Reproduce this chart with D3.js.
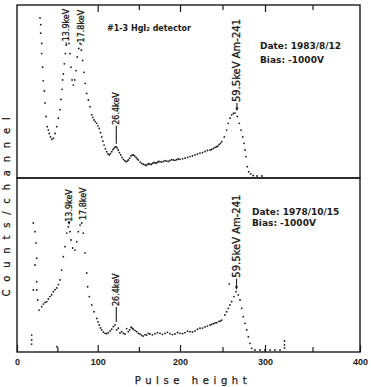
<!DOCTYPE html>
<html><head><meta charset="utf-8">
<script src="https://cdn.jsdelivr.net/npm/d3@7"></script>
<style>body{margin:0;background:#fff}svg{display:block}</style>
</head><body><svg id="c" width="371" height="387"></svg>
<script>
// ---------- data ----------
const xTickValues = [0, 100, 200, 300, 400];
const xMinorTicks = [50, 150, 250, 350];
const xTopMajor = [100, 200, 300];
const xTopMinor = [150, 250, 350];

// upper spectrum (1983/8/12)
const topCh = [28.5,29.4,29.4,30.6,30.6,31.8,32.5,33.8,34.7,35.9,37.5,38.8,40,41.5,43,45,47.1,49.2,51.2,53.3,54.5,55.8,56.6,57.4,58.6,59.9,61.1,62.8,64.4,65.7,66.9,68.2,69.8,71.5,73.1,74.7,76.5,78.1,79.7,81.4,83,84.6,86.4,88.4,90.5,92.6,95.4,98.8,101.9,104.9,107.7,110.9,114.1,117,119.8,122.2,125,127.9,131.1,134.4,137.2,140.5,143.3,146.5,149.3,153.5,157.5,160.5,163.5,166.5,169.6,172.7,175.7,179.8,183.8,187.8,191.9,196,200,206,211.8,217.6,223.5,229.4,235.3,239.3,243.2,246,249.1,252.1,254.9,256.8,258.8,260.8,262.8,264.7,267.4,269.8,271.8,273.8,275.3,276.5,277.6,279.2,280.8,283.2,286.2,290.6,296.5,
  151.5,155.5,159,162,165,168,171,174,177.7,181.8,185.8,189.8,194,198,203,209,214.7,220.5,226.5,232.3,237.3,241.3,244.6,247.5,103.4,106.3,109.3,112.5,115.5,118.4,121,123.6,126.4,129.5,132.8,135.8,138.8,142,144.9,147.9,94,97,100.3];
const topCounts = [93,89,84,78,72,64,56,50,43,35,29,27,25,23,21.6,22.2,25,29,34,39,45,51,56.5,60,66,72,77,81,78,72,64,56.5,53.5,56.5,62,70,75,78,74,68,61,54.5,48.6,44.7,40.8,36,33,31,28,23,18.2,14.3,12.4,14.3,16.3,17.2,15.3,12.4,9.8,8.4,9.4,11.8,12.4,11,9.4,7.4,6.5,6.8,7,7.4,7.8,8.1,8.4,8.6,8.8,9.1,9.4,9.6,9.8,10.5,11.4,12.4,13.4,14.4,15.3,16.2,17.2,18.5,20.2,23,27,31,34,36,36.8,37,35,31,27,23,19.2,15.3,11.4,5.5,2.5,1.2,0.3,0,0,
  8.2,6.9,6.2,7.2,6.8,7.9,7.5,8.6,8.2,9.0,8.6,9.6,9.2,10.0,10.1,11.0,11.8,13.0,13.8,15.0,15.6,16.8,17.6,19.2,25.5,20.5,16,13,13.2,15.5,17,16.5,13.8,11,9,8.8,10.5,12.3,11.8,10.2,34.5,32,29.5];

// lower spectrum (1978/10/15)
const botCh = [18.2,18.2,18.2,20.2,20.2,22.3,22.3,23.5,24.4,24.4,24.4,25.7,27.3,30.6,32.6,34.7,36.8,38.8,40.9,43,45,47.1,49.2,49.2,51.2,53.3,55.4,57.4,59.5,61.6,63.6,65.7,66.9,69,71.9,74,76,78.1,80.2,82.2,84.3,86.4,87.6,89.6,92.6,95.4,98.8,101.9,104.9,108.9,112.9,117,121,125,129.2,133.2,137.2,140.5,143.3,147.4,151.4,155.4,159.5,163.5,169.6,175.7,181.8,187.8,193.9,200,205.9,211.8,217.6,223.5,229.4,235.3,239.2,243.2,245.9,249.1,252.9,254.9,256.8,257.9,258.8,260.8,263.5,265.9,268.6,270.6,272.6,274.5,276.5,278.5,280.4,282.4,284.4,288.2,294.1,300,305.3,310.5,315.8,320.5,320.5,320.5,
  145.4,149.4,153.4,157.5,161.5,166.5,172.6,178.7,184.8,190.8,197,203,208.9,214.7,220.5,226.5,232.3,237.3,241.2,247.5,100.3,103.4,106.9,110.9,115,119,123,127.1,131.2,135.2,138.8,141.9];
const botCounts = [8.8,5.9,3.5,74.7,35.3,69.6,50,63,54,40.2,35.3,29.4,23.5,25.5,27,28,28.4,30,31.4,32.5,34.3,35.5,36.5,2,38.5,41.2,47,54.9,60.8,68.8,72.5,69.6,64.7,60,58.8,63.7,69.6,73.5,74.7,68.8,57,45.3,37.2,31.4,26.5,22.5,18.6,14.7,11.8,9.8,10.2,12.2,14.7,12.8,10.8,9.4,10.8,13.4,12.2,10.8,9.4,8.2,8.8,9.4,9.6,9.8,9.8,9.6,9.4,9.8,10.2,10.8,11.2,12.8,13.6,14.7,15.5,16.1,16.8,17.6,20.6,22.5,24.5,38.8,26.5,28.4,31.4,34.3,32.4,29.4,24.5,19.6,15.7,11.8,7.8,3.9,1,0,0,0,0,0,0,1.2,3,5.3,
  11.4,9.8,8.6,9.0,9.8,8.9,10.2,9.2,10.4,9.1,10.3,9.6,11.1,10.6,12.2,12.9,14.1,15.1,15.9,17.0,16.5,13,10.5,9.6,11.2,13.7,11.8,10,9.8,12.6,11.9,12.8];

// peak annotations
const peakLabels = ["13.9keV", "17.8keV", "26.4keV", "59.5keV Am-241"];
const topPeakCh = [61, 79.5, 122.6, 267];
const topPeakCounts = [81, 78, 17.2, 37];
const botPeakCh = [64.5, 81.8, 122.6, 266.5];
const botPeakCounts = [72.5, 74.7, 14.7, 34.3];

const titleText = "#1-3 HgI\u2082 detector";
const topInfo = ["Date: 1983/8/12", "Bias: -1000V"];
const botInfo = ["Date: 1978/10/15", "Bias: -1000V"];
const xTitle = "Pulse height";
const yTitle = "Counts/channel";

// ---------- layout ----------
const svg = d3.select("#c");
const ink = "#1a1a1a";
const x = d3.scaleLinear().domain(xTickValues).range([17, 97.7, 180, 265, 360]);
const yTop = d3.scaleLinear().domain([0, 100]).range([176, 6]);
const yBot = d3.scaleLinear().domain([0, 100]).range([350, 180]);
const panelTop = 5, panelMid = 178, panelBot = 352;

// frames
svg.append("rect").attr("x", x(0)).attr("y", panelTop)
  .attr("width", x(400) - x(0)).attr("height", panelMid - panelTop)
  .attr("fill", "none").attr("stroke", ink).attr("stroke-width", 1.4);
svg.append("rect").attr("x", x(0)).attr("y", panelMid)
  .attr("width", x(400) - x(0)).attr("height", panelBot - panelMid)
  .attr("fill", "none").attr("stroke", ink).attr("stroke-width", 1.4);

// bottom axis
const gB = svg.append("g").attr("transform", `translate(0,${panelBot})`)
  .call(d3.axisBottom(x).tickValues(xTickValues).tickSizeInner(-7).tickSizeOuter(0).tickPadding(7).tickFormat(d3.format("d")));
gB.select(".domain").remove();
gB.selectAll("line").attr("stroke", ink).attr("stroke-width", 1.2);
gB.selectAll("text").attr("font-family", "Liberation Sans, Arial, sans-serif")
  .attr("font-size", 9).attr("font-weight", "bold").attr("fill", ink);
const gBm = svg.append("g").attr("transform", `translate(0,${panelBot})`)
  .call(d3.axisBottom(x).tickValues(xMinorTicks).tickSizeInner(-5).tickSizeOuter(0).tickFormat(""));
gBm.select(".domain").remove();
gBm.selectAll("line").attr("stroke", ink).attr("stroke-width", 1.2);

// top axis ticks (inward)
const gT = svg.append("g").attr("transform", `translate(0,${panelTop})`)
  .call(d3.axisTop(x).tickValues(xTopMajor).tickSizeInner(-7).tickSizeOuter(0).tickFormat(""));
gT.select(".domain").remove();
gT.selectAll("line").attr("stroke", ink).attr("stroke-width", 1.2);
const gTm = svg.append("g").attr("transform", `translate(0,${panelTop})`)
  .call(d3.axisTop(x).tickValues(xTopMinor).tickSizeInner(-5).tickSizeOuter(0).tickFormat(""));
gTm.select(".domain").remove();
gTm.selectAll("line").attr("stroke", ink).attr("stroke-width", 1.2);

// spectra as dots
function dots(ch, counts, y) {
  svg.append("g").selectAll("circle").data(ch.map((c, i) => [c, counts[i]]))
    .join("circle").attr("cx", d => x(d[0])).attr("cy", d => y(d[1]))
    .attr("r", 0.9).attr("fill", ink);
}
dots(topCh, topCounts, yTop);
dots(botCh, botCounts, yBot);

// peak labels
const topGap = [-3, 1, 22, 11];     // px from peak to start of text
const botGap = [5, 3, 19, 14];
const topMark = ["dash", "dot", "line", "arrow"];
const botMark = ["arrow", "none", "line", "arrow"];
const labelSize = [8, 8, 8, 10];
function peakLabel(text, ch, v, y, gap, mark, fs) {
  const px = x(ch), py = y(v), ys = py - gap;
  if (mark === "dash") {
    svg.append("line").attr("x1", px).attr("x2", px).attr("y1", ys + 1).attr("y2", ys + 4)
      .attr("stroke", ink).attr("stroke-width", 1);
  } else if (mark === "dot") {
    svg.append("circle").attr("cx", px).attr("cy", ys + 2).attr("r", 0.8).attr("fill", ink);
  } else if (mark === "line" || mark === "arrow") {
    svg.append("line").attr("x1", px).attr("x2", px).attr("y1", ys + 1).attr("y2", py - 3)
      .attr("stroke", ink).attr("stroke-width", 1.1);
    if (mark === "arrow") {
      svg.append("path").attr("d", `M${px - 1.6},${py - 5.5}L${px + 1.6},${py - 5.5}L${px},${py - 2}Z`)
        .attr("fill", ink);
    }
  }
  svg.append("text").attr("transform", `translate(${px},${ys}) rotate(-90)`)
    .attr("dy", "0.35em").attr("font-family", "DejaVu Sans, sans-serif")
    .attr("font-size", fs).attr("fill", ink).attr("stroke", ink).attr("stroke-width", 0.3).text(text);
}
peakLabels.forEach((t, i) => {
  peakLabel(t, topPeakCh[i], topPeakCounts[i], yTop, topGap[i], topMark[i], labelSize[i]);
  peakLabel(t, botPeakCh[i], botPeakCounts[i], yBot, botGap[i], botMark[i], labelSize[i]);
});

// texts
svg.append("text").attr("x", 107).attr("y", 31).attr("font-family", "DejaVu Sans, sans-serif")
  .attr("font-size", 8).attr("font-weight", "bold").attr("fill", ink).text(titleText);
topInfo.forEach((t, i) => svg.append("text").attr("x", 260).attr("y", 49 + i * 14)
  .attr("font-family", "DejaVu Sans, sans-serif").attr("font-size", 9).attr("font-weight", "bold")
  .attr("fill", ink).text(t));
botInfo.forEach((t, i) => svg.append("text").attr("x", 252).attr("y", 215 + i * 11)
  .attr("font-family", "DejaVu Sans, sans-serif").attr("font-size", 9).attr("font-weight", "bold")
  .attr("fill", ink).text(t));

svg.append("text").attr("x", 193).attr("y", 384).attr("text-anchor", "middle")
  .attr("font-family", "DejaVu Sans, sans-serif").attr("font-size", 10)
  .attr("letter-spacing", 4.6).attr("fill", ink).attr("stroke", ink).attr("stroke-width", 0.25).text(xTitle);
svg.append("text").attr("transform", "translate(10,203) rotate(-90)").attr("text-anchor", "middle")
  .attr("font-family", "DejaVu Sans, sans-serif").attr("font-size", 10)
  .attr("letter-spacing", 7.8).attr("fill", ink).attr("stroke", ink).attr("stroke-width", 0.25).text(yTitle);
</script>
</body></html>
